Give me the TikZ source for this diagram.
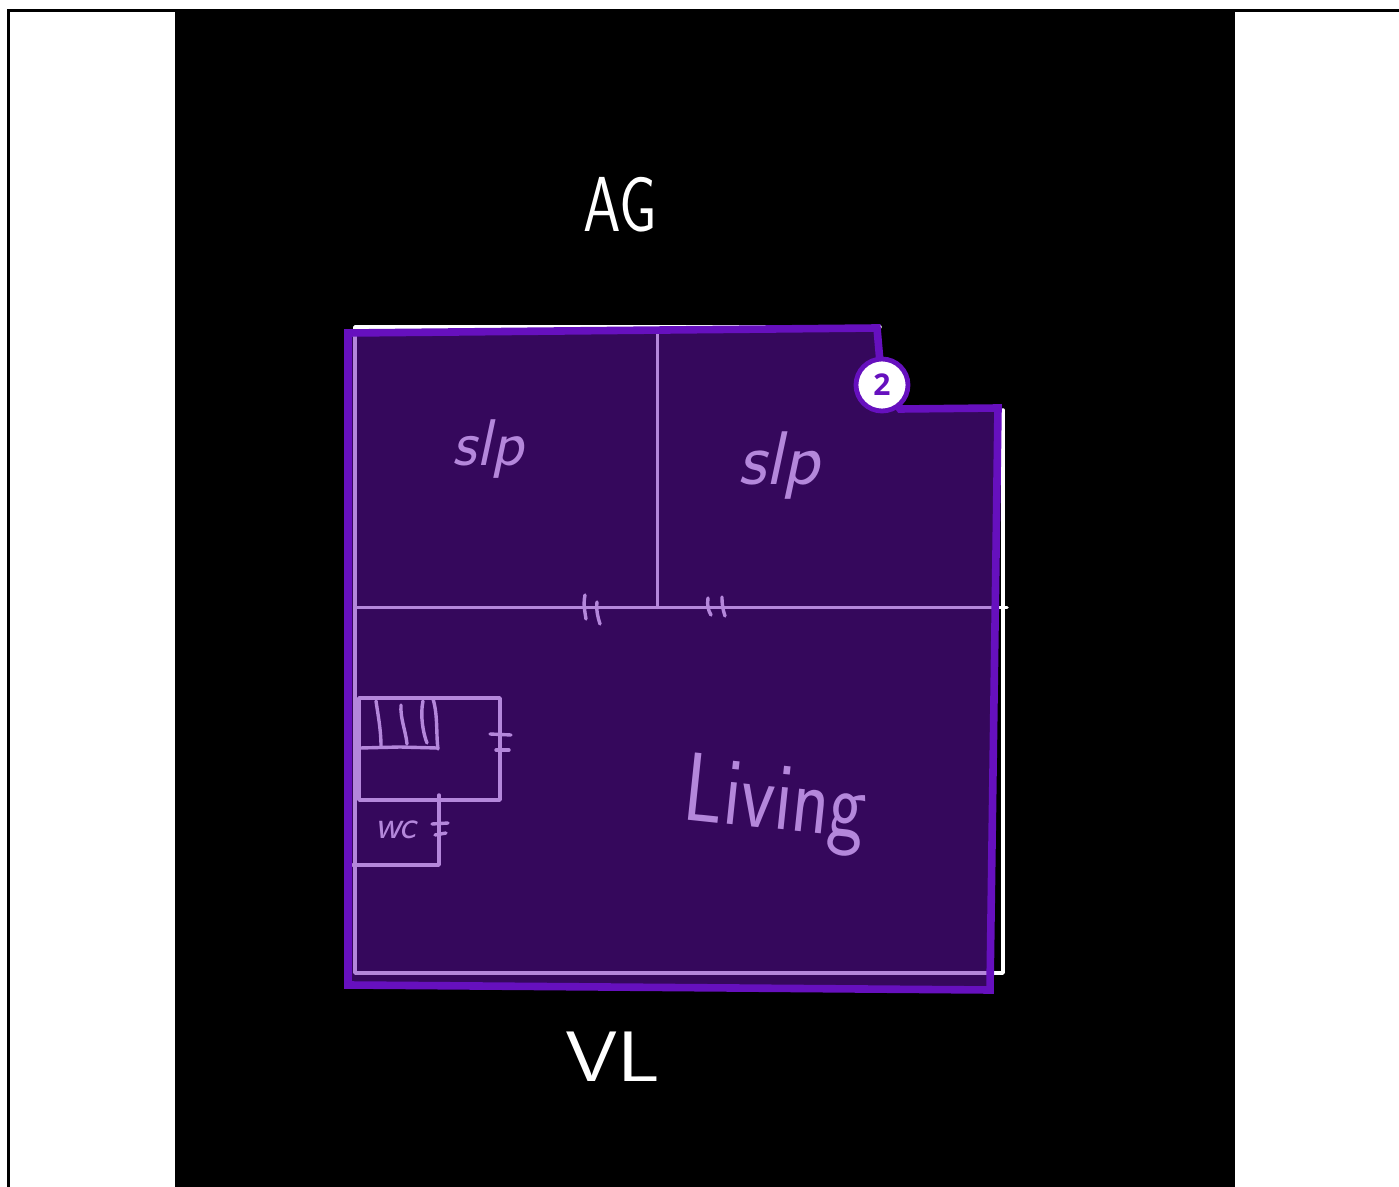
\documentclass[tikz,border=0pt]{standalone}
\usepackage{fontspec}
\usepackage{graphicx}
\newfontfamily\badgefont{Open Sans}
\definecolor{zone}{HTML}{6A10B8}
\definecolor{zoneline}{HTML}{6610BE}
\tikzset{
  ink/.style={draw=white,line width=1.75pt,line cap=round,line join=round},
  tick/.style={draw=white,line width=1.7pt,line cap=round},
  hand/.style={text=white,inner sep=0pt,font=\sffamily\itshape},
  badge/.style={circle,draw=zoneline,fill=white,line width=2.4pt,minimum size=26pt,inner sep=0pt,text=zoneline,font=\badgefont\bfseries\fontsize{15}{15}\selectfont}
}
\begin{document}
\begin{tikzpicture}[x=0.5pt,y=-0.5pt]
\useasboundingbox (0,0) rectangle (1399,1187);
\fill[white] (0,0) rectangle (1399,1187);
\fill[black] (175,10) rectangle (1235,1187);
\draw[black,line width=1.5pt] (8.5,1187) -- (8.5,11) -- (1399,11);
% plan, white ink
\draw[ink] (880,327) -- (355,327) -- (355,973) -- (1003,973) -- (1003,410);
\draw[ink] (355,607.5) -- (1007,607.5);
\draw[ink] (657.5,327) -- (657.5,607.5);
\draw[tick] (585,595) .. controls (583,605) and (585,612) .. (586,619);
\draw[tick] (597,602) .. controls (596,610) and (598,618) .. (600,624);
\draw[tick] (708,598) .. controls (707,605) and (708,610) .. (711,615);
\draw[tick] (722,597) .. controls (722,605) and (723,610) .. (725,616);
% stairs
\draw[ink] (359,698) rectangle (500,800);
\draw[tick] (360,748) -- (400,747) -- (437,748);
\draw[tick] (376,701) .. controls (378,715) and (381,730) .. (381,746);
\draw[tick] (401,705) .. controls (400,718) and (406,732) .. (407,744);
\draw[tick] (423,701) .. controls (420,715) and (423,733) .. (427,743);
\draw[tick] (433,699) .. controls (438,715) and (436,735) .. (438,749);
\draw[tick] (490,734) -- (511,735);
\draw[tick] (496,750) -- (509,750);
% wc
\draw[ink] (439,795) -- (439,865) -- (353,865);
\draw[tick] (432,824) -- (448,823);
\draw[tick] (435,835) -- (446,833);
% handwriting
\node[hand,font=\sffamily\itshape\fontsize{20}{20}\selectfont] (wc) at (396,830) {wc};
\node[hand,font=\sffamily\itshape\fontsize{33}{33}\selectfont] (sleepa) at (488,449) {slp};
\node[hand,font=\sffamily\itshape\fontsize{38}{38}\selectfont] (sleepb) at (779,466) {slp};
\node[hand,rotate=-6,font=\sffamily\fontsize{39}{39}\selectfont] (living) at (775,805) {\scalebox{1}[1.25]{Living}};
\node[hand,font=\sffamily\fontsize{30}{30}\selectfont] (ag) at (620,205) {\scalebox{1}[1.3]{AG}};
\node[hand,font=\sffamily\fontsize{42}{42}\selectfont] (vl) at (613,1057) {\scalebox{1}[.85]{VL}};
% zone overlay
\coordinate (z1) at (348,333);
\coordinate (z2) at (877,328);
\coordinate (z3) at (882,385);
\coordinate (z4) at (900,409);
\coordinate (z5) at (998,408);
\coordinate (z6) at (990,990);
\coordinate (z7) at (348,985);
\fill[zone,opacity=.5] (z1) -- (z2) -- (z3) -- (z4) -- (z5) -- (z6) -- (z7) -- cycle;
\draw[zoneline,line width=3.8pt,line join=miter] (z1) -- (z2) -- (z3) -- (z4) -- (z5) -- (z6) -- (z7) -- cycle;
\node[badge] (b) at (z3) {2};
\end{tikzpicture}
\end{document}
